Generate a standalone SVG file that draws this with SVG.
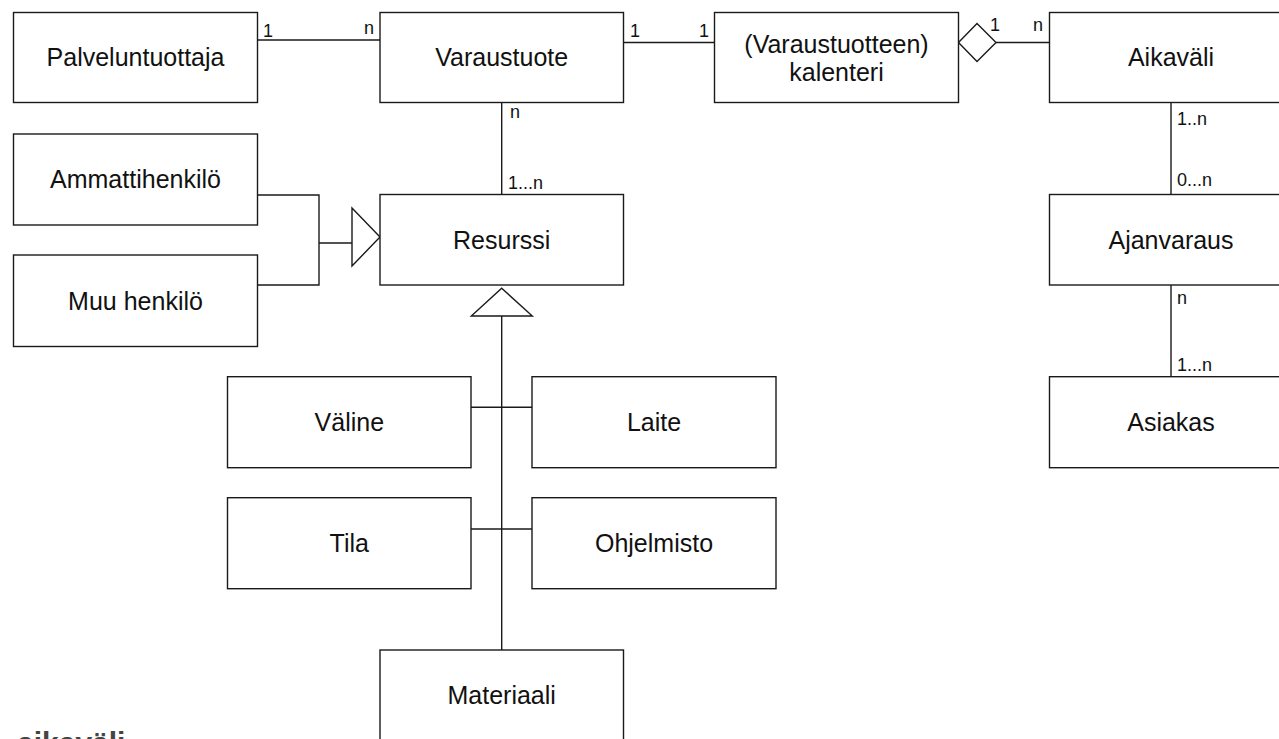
<svg xmlns="http://www.w3.org/2000/svg" width="1279" height="739" viewBox="0 0 1279 739">
<style>
.box{fill:#fff;stroke:#1a1a1a;stroke-width:1.4}
.t{font-family:"Liberation Sans",Arial,sans-serif;font-size:25px;fill:#111;text-anchor:middle}
.lbl{font-family:"Liberation Sans",Arial,sans-serif;font-size:18px;fill:#111}
.ln{fill:none;stroke:#1a1a1a;stroke-width:1.4}
.hd{fill:#fff;stroke:#1a1a1a;stroke-width:1.4}
.cap{font-family:"Liberation Sans",Arial,sans-serif;font-size:30px;font-weight:bold;fill:#444}
</style>
<rect width="1279" height="739" fill="#fff"/>
<g id="connectors">
<line class="ln" x1="257.5" y1="40" x2="380" y2="40"/>
<line class="ln" x1="623.5" y1="42.5" x2="714.5" y2="42.5"/>
<line class="ln" x1="996" y1="42.5" x2="1049.5" y2="42.5"/>
<polygon class="hd" points="958.5,42.5 977,23.5 996,42.5 977,61.5"/>
<line class="ln" x1="501.7" y1="102.5" x2="501.7" y2="194.5"/>
<line class="ln" x1="1171" y1="102.5" x2="1171" y2="194.5"/>
<line class="ln" x1="1171" y1="285" x2="1171" y2="376.7"/>
<polyline class="ln" points="257.5,195 319,195 319,285 257.5,285"/>
<line class="ln" x1="319" y1="243" x2="352" y2="243"/>
<polygon class="hd" points="352,208 380,237 352,266"/>
<line class="ln" x1="501.7" y1="316" x2="501.7" y2="650"/>
<polygon class="hd" points="501.7,288.3 532.3,316 471.3,316"/>
<line class="ln" x1="471" y1="407.3" x2="532" y2="407.3"/>
<line class="ln" x1="471" y1="529" x2="532" y2="529"/>
<text class="lbl" x="263" y="36.5">1</text>
<text class="lbl" x="364" y="33.5">n</text>
<text class="lbl" x="630" y="36.5">1</text>
<text class="lbl" x="699" y="36.5">1</text>
<text class="lbl" x="990" y="30.5">1</text>
<text class="lbl" x="1033" y="30.5">n</text>
<text class="lbl" x="510" y="118">n</text>
<text class="lbl" x="508" y="189">1...n</text>
<text class="lbl" x="1177" y="125">1..n</text>
<text class="lbl" x="1177" y="186">0...n</text>
<text class="lbl" x="1177" y="304">n</text>
<text class="lbl" x="1177" y="370.5">1...n</text>
</g>
<g id="palveluntuottaja"><rect class="box" x="13.5" y="12.5" width="244" height="90"/><text class="t" x="135.5" y="66">Palveluntuottaja</text></g>
<g id="varaustuote"><rect class="box" x="380" y="12.5" width="243.5" height="90"/><text class="t" x="501.7" y="66">Varaustuote</text></g>
<g id="kalenteri"><rect class="box" x="714.5" y="12.5" width="244" height="90"/><text class="t" x="836.5" y="53">(Varaustuotteen)</text><text class="t" x="836.5" y="81">kalenteri</text></g>
<g id="aikavali"><rect class="box" x="1049.5" y="12.5" width="244" height="90"/><text class="t" x="1171" y="66">Aikaväli</text></g>
<g id="ammattihenkilo"><rect class="box" x="13.5" y="134" width="244" height="91"/><text class="t" x="135.5" y="188">Ammattihenkilö</text></g>
<g id="resurssi"><rect class="box" x="380" y="194.5" width="243.5" height="90.5"/><text class="t" x="501.7" y="248.5">Resurssi</text></g>
<g id="ajanvaraus"><rect class="box" x="1049.5" y="194.5" width="244" height="90.5"/><text class="t" x="1171" y="248.5">Ajanvaraus</text></g>
<g id="muuhenkilo"><rect class="box" x="13.5" y="255" width="244" height="91.5"/><text class="t" x="135.5" y="309.5">Muu henkilö</text></g>
<g id="valine"><rect class="box" x="227.5" y="376.7" width="243.5" height="91"/><text class="t" x="349.3" y="431">Väline</text></g>
<g id="laite"><rect class="box" x="532" y="376.7" width="244" height="91"/><text class="t" x="654" y="431">Laite</text></g>
<g id="asiakas"><rect class="box" x="1049.5" y="376.7" width="244" height="91"/><text class="t" x="1171" y="431">Asiakas</text></g>
<g id="tila"><rect class="box" x="227.5" y="497.7" width="243.5" height="91"/><text class="t" x="349.3" y="552">Tila</text></g>
<g id="ohjelmisto"><rect class="box" x="532" y="497.7" width="244" height="91"/><text class="t" x="654" y="552">Ohjelmisto</text></g>
<g id="materiaali"><rect class="box" x="380" y="650" width="243.5" height="91"/><text class="t" x="501.7" y="704">Materiaali</text></g>
<text class="cap" x="17" y="753">aikaväli</text>
</svg>
